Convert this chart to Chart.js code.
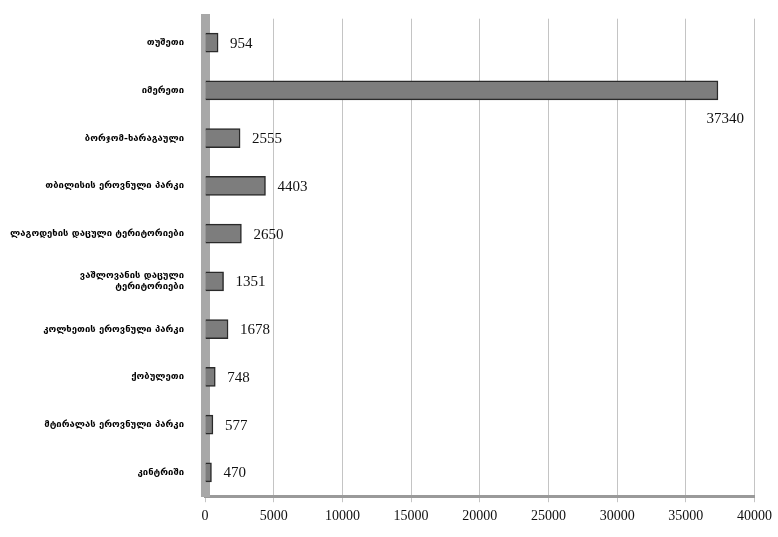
<!DOCTYPE html>
<html>
<head>
<meta charset="utf-8">
<script src="https://cdn.jsdelivr.net/npm/chart.js@4"></script>
<style>
  html, body { margin: 0; padding: 0; background: #fff; }
  #wrap { width: 778px; height: 537px; }
</style>
</head>
<body>
<div id="wrap"><canvas id="visitors-chart" width="778" height="537"></canvas></div>
<script>
const categories = [
    'თუშეთი',
    'იმერეთი',
    'ბორჯომ-ხარაგაული',
    'თბილისის ეროვნული პარკი',
    'ლაგოდეხის დაცული ტერიტორიები',
    ['ვაშლოვანის დაცული', 'ტერიტორიები'],
    'კოლხეთის ეროვნული პარკი',
    'ქობულეთი',
    'მტირალას ეროვნული პარკი',
    'კინტრიში'
];
const visitors = [954, 37340, 2555, 4403, 2650, 1351, 1678, 748, 577, 470];
const xTicks = [0, 5000, 10000, 15000, 20000, 25000, 30000, 35000, 40000];

// value labels next to the bars; the long bar gets its label underneath
const valueLabels = {
    id: 'valueLabels',
    afterDatasetsDraw(chart) {
        const ctx = chart.ctx;
        const meta = chart.getDatasetMeta(0);
        ctx.save();
        ctx.font = '15px "Liberation Serif", serif';
        ctx.fillStyle = '#111';
        ctx.textBaseline = 'middle';
        meta.data.forEach((bar, i) => {
            const text = String(visitors[i]);
            if (visitors[i] > 30000) {
                ctx.textAlign = 'right';
                ctx.fillText(text, bar.x + 26, bar.y + 29);
            } else {
                ctx.textAlign = 'left';
                ctx.fillText(text, bar.x + 12, bar.y + 1);
            }
        });
        ctx.restore();
    }
};

new Chart(document.getElementById('visitors-chart'), {
    type: 'bar',
    data: {
        labels: categories,
        datasets: [{
            data: visitors,
            backgroundColor: '#7d7d7d',
            borderColor: '#2a2a2a',
            borderWidth: 1.5,
            barThickness: 19
        }]
    },
    options: {
        responsive: false,
        animation: false,
        indexAxis: 'y',
        layout: { padding: { top: 16, right: 22, bottom: 6, left: 0 } },
        scales: {
            x: {
                min: 0,
                max: 40000,
                afterBuildTicks: axis => { axis.ticks = xTicks.map(v => ({ value: v })); },
                grid: { color: '#c4c4c4', lineWidth: 1, tickLength: 6 },
                border: { color: '#9a9a9a', width: 3 },
                ticks: {
                    color: '#111',
                    font: { family: '"Liberation Serif", serif', size: 14 },
                    maxRotation: 0,
                    padding: 6,
                    callback: value => String(value)
                }
            },
            y: {
                afterFit: axis => { axis.width = 205; },
                grid: { display: false },
                border: { color: '#a8a8a8', width: 9 },
                ticks: {
                    color: '#000',
                    font: { family: '"DejaVu Sans", sans-serif', size: 9.5, weight: 'bold' },
                    padding: 13
                }
            }
        },
        plugins: {
            legend: { display: false },
            tooltip: { enabled: false }
        }
    },
    plugins: [valueLabels]
});
</script>
</body>
</html>
